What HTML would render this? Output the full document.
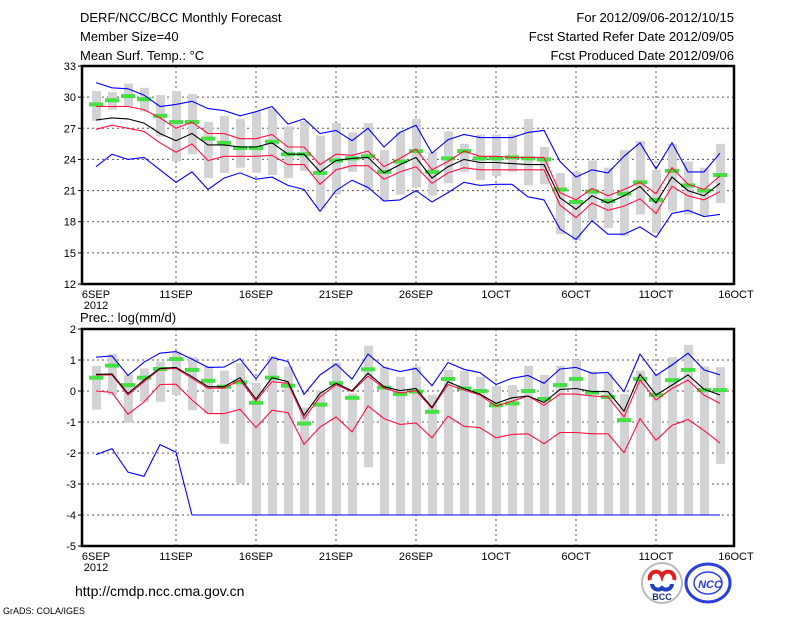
<!DOCTYPE html>
<html><head><meta charset="utf-8"><style>
html,body{margin:0;padding:0;background:#fff;}
svg{display:block;font-family:"Liberation Sans",sans-serif;}
</style></head><body>
<svg id="chart" width="800" height="618" viewBox="0 0 800 618">
<g font-size="13" fill="#000">
<text x="80" y="22">DERF/NCC/BCC Monthly Forecast</text>
<text x="80" y="41">Member Size=40</text>
<text x="80" y="60">Mean Surf. Temp.: °C</text>
<text x="734" y="22" text-anchor="end">For 2012/09/06-2012/10/15</text>
<text x="734" y="41" text-anchor="end">Fcst Started Refer Date 2012/09/05</text>
<text x="734" y="60" text-anchor="end">Fcst Produced Date 2012/09/06</text>
<text x="80" y="322">Prec.: log(mm/d)</text>
</g>
<g id="top"></g>
<g id="bot"></g>
<text x="75" y="596" font-size="14">http://cmdp.ncc.cma.gov.cn</text>
<text x="3" y="614" font-size="9">GrADS: COLA/IGES</text>
<g>
<circle cx="662" cy="583" r="20" fill="#fff" stroke="#bbb" stroke-width="2"/>
<path d="M650 580 a6 6 0 0 1 12 -4 a6 6 0 0 1 12 4" fill="none" stroke="#e02020" stroke-width="4"/>
<path d="M652 584 a6 6 0 0 0 10 4 a6 6 0 0 0 10 -4" fill="none" stroke="#2040c0" stroke-width="4"/>
<text x="662" y="600" font-size="9" font-weight="bold" text-anchor="middle" fill="#203080">BCC</text>
</g>
<g>
<ellipse cx="708" cy="583" rx="22" ry="19" fill="#fff" stroke="#2a3ee0" stroke-width="3"/>
<ellipse cx="708" cy="583" rx="14" ry="11" fill="none" stroke="#2a3ee0" stroke-width="1.5"/>
<text x="710" y="588" font-size="11" font-weight="bold" font-style="italic" text-anchor="middle" fill="#2a3ee0">NCC</text>
</g>
</svg>
<script>
// ---- temperature data (6SEP..15OCT) ----
const days = 40;
const xLabels = ["6SEP","11SEP","16SEP","21SEP","26SEP","1OCT","6OCT","11OCT","16OCT"];
const tTicks = [12,15,18,21,24,27,30,33];
const tBlueHi = [31.4,30.9,30.8,30.2,29.1,29.3,29.6,28.9,28.7,28.2,28.6,29.1,27.4,27.9,26.5,26.8,25.8,27.0,25.2,26.6,27.3,24.6,25.9,26.4,26.1,26.1,26.1,26.6,26.8,23.8,22.3,23.0,22.7,24.3,25.6,23.1,25.6,22.8,22.8,24.6];
const tRedHi = [29.1,29.1,29.1,28.8,28.0,27.0,27.6,26.5,26.5,26.0,26.0,26.4,25.2,25.2,23.5,24.5,24.4,24.8,23.3,24.1,25.0,23.0,23.8,24.8,24.3,24.3,24.2,24.2,24.2,20.8,20.1,21.2,20.5,21.1,21.8,20.7,23.2,21.6,21.1,22.4];
const tMean = [27.8,28.0,27.9,27.5,26.5,25.8,26.5,25.4,25.4,25.2,25.2,25.6,24.5,24.5,22.8,23.9,24.1,24.2,22.7,23.5,24.2,22.2,23.3,24.0,23.7,23.7,23.6,23.5,23.5,20.3,19.2,20.5,19.8,20.5,21.4,19.8,22.3,21.0,20.5,21.7];
const tRedLo = [26.9,27.3,27.0,26.7,25.6,24.7,25.5,23.9,24.3,24.3,24.3,24.4,23.5,23.5,21.6,23.0,23.4,23.4,22.1,22.8,23.3,21.7,22.7,23.2,23.0,23.0,23.0,23.0,23.0,19.6,18.4,19.8,19.1,19.5,20.2,18.8,21.4,20.5,20.1,20.9];
const tBlueLo = [23.3,24.5,24.0,24.2,23.0,21.8,22.8,21.1,22.2,22.7,22.1,22.3,21.5,21.1,19.0,21.0,22.0,21.3,20.0,20.1,21.0,19.9,20.8,21.8,21.5,21.6,21.6,20.4,20.1,17.3,16.3,18.1,16.8,16.8,17.5,16.5,18.8,19.1,18.5,18.7];
const tObs = [29.3,29.7,30.1,29.8,28.2,27.6,27.6,26.0,25.6,25.1,25.1,25.7,24.5,24.5,22.7,23.9,24.1,24.3,22.8,23.8,24.8,22.8,24.1,24.8,24.1,24.1,24.2,24.1,24.0,21.1,19.9,20.9,20.0,20.7,21.8,20.1,22.9,21.5,21.0,22.5];
const tMax = [30.6,30.5,31.3,30.9,30.2,30.6,30.3,27.6,28.2,27.9,28.6,28.9,27.2,27.7,26.3,27.5,26.6,27.5,24.9,26.7,27.9,24.7,26.7,25.5,26.4,26.4,26.4,27.9,25.2,22.7,22.8,23.9,23.2,24.9,25.8,23.0,25.5,23.8,23.2,25.5];
const tMin = [27.7,28.8,29.1,28.6,26.2,23.8,24.5,22.2,22.7,23.2,22.7,22.5,22.2,22.9,19.3,20.6,22.8,21.0,20.0,20.6,21.3,20.5,21.7,22.8,22.0,22.4,22.8,21.5,21.6,16.8,16.2,18.1,17.4,16.6,18.7,16.9,19.0,18.7,18.6,19.8];
// ---- precipitation data ----
const pTicks = [-5,-4,-3,-2,-1,0,1,2];
const pBlueHi = [1.09,1.13,0.50,0.93,1.22,1.27,1.03,0.76,0.77,1.04,0.39,1.08,0.95,-0.11,0.52,0.87,0.38,1.19,0.76,0.63,0.73,0.17,0.92,0.70,0.59,0.21,0.41,0.50,0.25,0.71,0.76,0.57,0.60,-0.02,1.19,0.50,0.84,1.22,0.68,0.52];
const pMean = [0.54,0.55,-0.08,0.35,0.73,0.76,0.46,0.14,0.14,0.43,-0.26,0.43,0.30,-0.78,-0.08,0.25,0.01,0.57,0.14,0.01,0.08,-0.53,0.30,0.08,-0.10,-0.40,-0.22,-0.16,-0.37,0.05,0.08,-0.02,-0.02,-0.65,0.54,-0.13,0.19,0.52,0.06,-0.13];
const pRedHi = [0.52,0.52,-0.13,0.30,0.71,0.73,0.41,0.09,0.09,0.35,-0.32,0.30,0.25,-0.89,-0.19,0.20,-0.02,0.48,0.09,-0.06,0.01,-0.56,0.21,0.03,-0.13,-0.49,-0.33,-0.16,-0.46,-0.10,-0.10,-0.16,-0.19,-0.84,0.35,-0.29,0.08,0.35,-0.13,-0.40];
const pRedLo = [0.00,-0.05,-0.75,-0.35,0.21,0.22,-0.29,-0.73,-0.73,-0.59,-1.18,-0.62,-0.70,-1.72,-1.16,-0.84,-1.32,-0.48,-0.89,-1.08,-1.03,-1.51,-0.81,-1.14,-1.18,-1.51,-1.40,-1.38,-1.70,-1.34,-1.34,-1.38,-1.38,-1.99,-0.89,-1.59,-1.11,-0.92,-1.27,-1.68];
const pBlueLo = [-2.05,-1.86,-2.62,-2.75,-1.73,-1.97,-4,-4,-4,-4,-4,-4,-4,-4,-4,-4,-4,-4,-4,-4,-4,-4,-4,-4,-4,-4,-4,-4,-4,-4,-4,-4,-4,-4,-4,-4,-4,-4,-4,-4];
const pObs = [0.43,0.82,0.19,0.43,0.71,1.03,0.68,0.33,0.14,0.28,-0.38,0.43,0.17,-1.05,-0.44,0.25,-0.22,0.70,0.11,-0.10,-0.02,-0.67,0.39,0.08,0.00,-0.46,-0.40,0.00,-0.26,0.19,0.39,-0.05,-0.19,-0.94,0.39,-0.13,0.35,0.68,0.03,0.03];
const pMax = [0.81,1.20,0.52,0.73,0.95,1.27,1.09,0.79,0.66,0.90,0.27,1.13,0.79,-0.53,0.03,0.92,-0.08,1.46,0.79,0.46,0.79,-0.13,0.68,0.66,0.46,0.16,0.19,0.81,0.52,0.81,1.00,0.63,0.57,-0.10,0.66,0.55,1.09,1.49,0.79,0.77];
const pMin = [-0.60,-0.13,-1.03,-0.35,-0.35,-0.13,-0.62,-0.73,-1.70,-3.00,-4,-4,-4,-4,-4,-4,-4,-2.46,-4,-4,-4,-4,-4,-4,-4,-4,-4,-4,-4,-4,-4,-4,-4,-4,-4,-4,-4,-4,-4,-2.35];

const NS = "http://www.w3.org/2000/svg";
function mk(parent, tag, attrs){const e=document.createElementNS(NS,tag);for(const k in attrs)e.setAttribute(k,attrs[k]);parent.appendChild(e);return e;}
const X0 = 96, DX = 16;
const L = 82, R = 734;
function xs(d){return X0 + d*DX;}

function panel(g, top, bottom, vmin, vmax, ticks, series, obs, gmax, gmin){
  const ys = v => bottom - (v - vmin)/(vmax - vmin)*(bottom - top);
  ticks.forEach(t=>{
    if(t!==vmin && t!==vmax){
      const gl = mk(g,"line",{x1:L,x2:R,y1:ys(t),y2:ys(t),stroke:"#555","stroke-dasharray":"2,3","stroke-width":1});
      
      
    }
    const tk = mk(g,"line",{x1:L-4,x2:L,y1:ys(t),y2:ys(t),stroke:"#000","stroke-width":1});
    
    
    const tl = mk(g,"text",{x:L-6,y:ys(t)+4,"text-anchor":"end","font-size":11});
    tl.textContent = t;
    
    
  });
  xLabels.forEach((lab,i)=>{
    const x = xs(i*5);
    if(i>0 && x<R){
      const gl = mk(g,"line",{x1:x,x2:x,y1:top,y2:bottom,stroke:"#555","stroke-dasharray":"2,3","stroke-width":1});
      
      
    }
    const tl = mk(g,"text",{x:x,y:bottom+14,"text-anchor":"middle","font-size":11});
    tl.textContent = lab;
    
    
  });
  const yr = mk(g,"text",{x:X0,y:bottom+25,"text-anchor":"middle","font-size":11});
  yr.textContent="2012";
  
  
  for(let d=0; d<days; d++){
    const b = mk(g,"rect",{x:xs(d)-4,y:ys(gmax[d]),width:9,height:Math.max(1,ys(gmin[d])-ys(gmax[d])),fill:"#d3d3d6"});
    
    
  }
  for(let d=0; d<days; d++){
    const o = mk(g,"rect",{x:xs(d)-7,y:ys(obs[d])-2,width:14,height:4,fill:"#44e044"});
    
    
  }
  series.forEach(s=>{
    const pts = s.v.map((v,d)=>xs(d).toFixed(1)+","+ys(v).toFixed(1)).join(" ");
    const pl = mk(g,"polyline",{points:pts,fill:"none",stroke:s.c,"stroke-width":1.1});
    
    
  });
  const fr = mk(g,"rect",{x:L,y:top,width:R-L,height:bottom-top,fill:"none",stroke:"#000","stroke-width":2.5});
  
  
}
panel(document.getElementById("top"), 66, 284, 12, 33, tTicks,
 [{v:tBlueHi,c:"#0000ff",n:"upper-extreme-line"},{v:tBlueLo,c:"#0000ff",n:"lower-extreme-line"},
  {v:tRedHi,c:"#ff1040",n:"upper-spread-line"},{v:tRedLo,c:"#ff1040",n:"lower-spread-line"},
  {v:tMean,c:"#000",n:"ensemble-mean-line"}], tObs, tMax, tMin);
panel(document.getElementById("bot"), 329, 546, -5, 2, pTicks,
 [{v:pBlueHi,c:"#0000ff",n:"upper-extreme-line"},{v:pBlueLo,c:"#0000ff",n:"lower-extreme-line"},
  {v:pRedHi,c:"#ff1040",n:"upper-spread-line"},{v:pRedLo,c:"#ff1040",n:"lower-spread-line"},
  {v:pMean,c:"#000",n:"ensemble-mean-line"}], pObs, pMax, pMin);
</script>
</body></html>
